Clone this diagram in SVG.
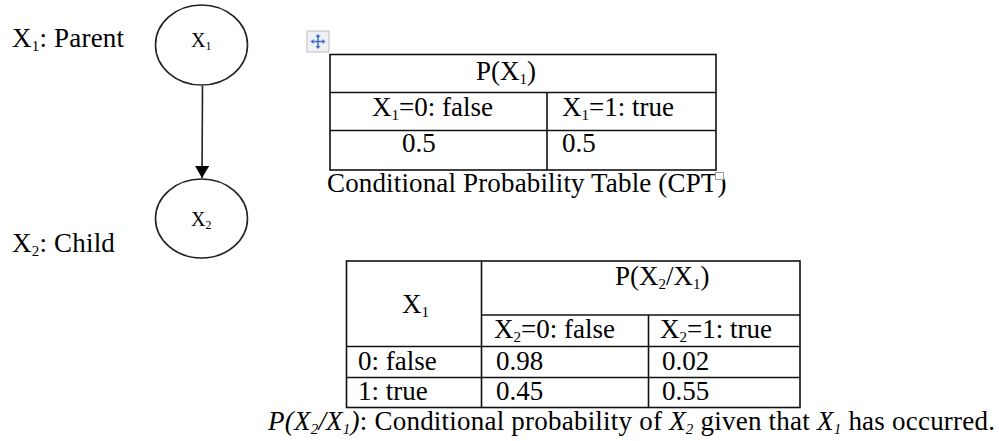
<svg xmlns="http://www.w3.org/2000/svg" width="999" height="441" viewBox="0 0 999 441">
<style>
text{font-family:"Liberation Serif","Times New Roman",serif;fill:#000;font-size:27px}
.sm{font-size:20px}
.node{fill:#fff;stroke:#222;stroke-width:1.6}
.grid{stroke:#111;stroke-width:1.6;fill:none}
.it{font-style:italic}
</style>
<defs>
<marker id="ah" markerWidth="12" markerHeight="14" refX="12" refY="7" orient="auto" markerUnits="userSpaceOnUse">
<path d="M0,0 L12,7 L0,14 Z" fill="#000"/>
</marker>
</defs>
<rect width="999" height="441" fill="#fff"/>

<g id="labels">
<text x="12" y="47" letter-spacing="0.2">X<tspan font-size="15" dy="4">1</tspan><tspan dy="-4">: Parent</tspan></text>
<text x="12" y="252" letter-spacing="0.2">X<tspan font-size="15" dy="4">2</tspan><tspan dy="-4">: Child</tspan></text>
</g>

<g id="connectors">
<line x1="202.5" y1="86" x2="202" y2="178" stroke="#222" stroke-width="1.6" marker-end="url(#ah)"/>
</g>

<g id="node-x1">
<ellipse class="node" cx="201.5" cy="45" rx="46" ry="40"/>
<text class="sm" x="191" y="47">X<tspan font-size="12" dy="3">1</tspan></text>
</g>
<g id="node-x2">
<ellipse class="node" cx="201.5" cy="218.5" rx="46" ry="39.5"/>
<text class="sm" x="191" y="226">X<tspan font-size="12" dy="3">2</tspan></text>
</g>

<g id="cpt-x1">
<rect x="307" y="31" width="22" height="21" fill="#eef1f6" stroke="#bdbdbd"/>
<g stroke="#3d6fc8" stroke-width="1.5" fill="#3d6fc8">
<line x1="312" y1="41.5" x2="324" y2="41.5"/>
<line x1="318" y1="35.5" x2="318" y2="47.5"/>
<path d="M310.5,41.5 L313.5,39 L313.5,44 Z" stroke="none"/>
<path d="M325.5,41.5 L322.5,39 L322.5,44 Z" stroke="none"/>
<path d="M318,34 L315.5,37 L320.5,37 Z" stroke="none"/>
<path d="M318,49 L315.5,46 L320.5,46 Z" stroke="none"/>
</g>
<rect class="grid" x="330" y="54.5" width="386" height="115.5"/>
<line class="grid" x1="330" y1="92.5" x2="716" y2="92.5"/>
<line class="grid" x1="330" y1="130.5" x2="716" y2="130.5"/>
<line class="grid" x1="547" y1="92.5" x2="547" y2="170"/>
<text x="476" y="80">P(X<tspan font-size="15" dy="4">1</tspan><tspan dy="-4">)</tspan></text>
<text x="372" y="116">X<tspan font-size="15" dy="4">1</tspan><tspan dy="-4">=0: false</tspan></text>
<text x="562" y="116">X<tspan font-size="15" dy="4">1</tspan><tspan dy="-4">=1: true</tspan></text>
<text x="402" y="152">0.5</text>
<text x="562" y="152">0.5</text>
<text x="327" y="192" letter-spacing="0.15">Conditional Probability Table (CPT)</text>
<rect x="715.5" y="172.5" width="8" height="7" fill="#fff" stroke="#9a9a9a"/>
</g>

<g id="cpt-x2">
<rect class="grid" x="346.5" y="261" width="453.5" height="146.5"/>
<line class="grid" x1="481.5" y1="261" x2="481.5" y2="407.5"/>
<line class="grid" x1="481.5" y1="315" x2="800" y2="315"/>
<line class="grid" x1="346.5" y1="346.5" x2="800" y2="346.5"/>
<line class="grid" x1="346.5" y1="377.5" x2="800" y2="377.5"/>
<line class="grid" x1="648.5" y1="315" x2="648.5" y2="407.5"/>
<text x="615" y="285">P(X<tspan font-size="15" dy="4">2</tspan><tspan dy="-4">/X</tspan><tspan font-size="15" dy="4">1</tspan><tspan dy="-4">)</tspan></text>
<text x="402" y="313">X<tspan font-size="15" dy="4">1</tspan></text>
<text x="494" y="338">X<tspan font-size="15" dy="4">2</tspan><tspan dy="-4">=0: false</tspan></text>
<text x="660" y="338">X<tspan font-size="15" dy="4">2</tspan><tspan dy="-4">=1: true</tspan></text>
<text x="358" y="370">0: false</text>
<text x="496" y="370">0.98</text>
<text x="662" y="370">0.02</text>
<text x="358" y="400">1: true</text>
<text x="496" y="400">0.45</text>
<text x="662" y="400">0.55</text>
<text x="268" y="430" letter-spacing="0.22"><tspan class="it">P(X</tspan><tspan class="it" font-size="15" dy="4">2</tspan><tspan class="it" dy="-4">/X</tspan><tspan class="it" font-size="15" dy="4">1</tspan><tspan class="it" dy="-4">)</tspan>: Conditional probability of <tspan class="it">X</tspan><tspan class="it" font-size="15" dy="4">2</tspan><tspan dy="-4"> given that </tspan><tspan class="it">X</tspan><tspan class="it" font-size="15" dy="4">1</tspan><tspan dy="-4"> has occurred.</tspan></text>
</g>
</svg>
